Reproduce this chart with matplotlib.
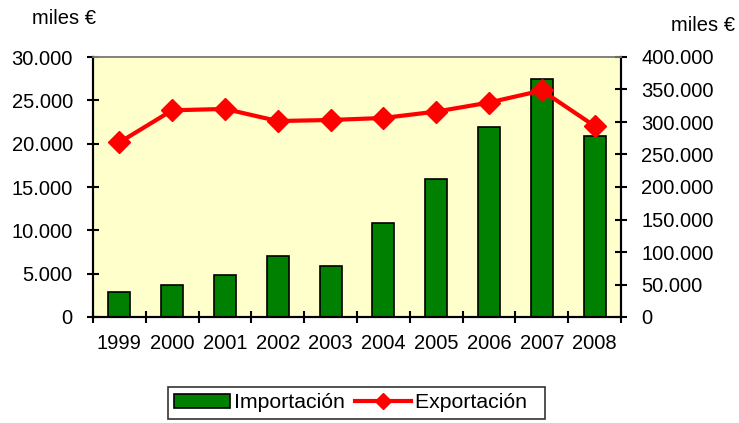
import matplotlib
matplotlib.use("Agg")
import matplotlib.pyplot as plt
from matplotlib.ticker import FuncFormatter, FixedLocator
from matplotlib.patches import Patch
from matplotlib.lines import Line2D
import numpy as np

years = ["1999", "2000", "2001", "2002", "2003", "2004", "2005", "2006", "2007", "2008"]
importacion = [2940, 3710, 4790, 7000, 5880, 10830, 15890, 21960, 27450, 20920]
exportacion = [268600, 318000, 320100, 301500, 303100, 306200, 316000, 329900, 348500, 293800]

plt.rcParams['font.family'] = ['Liberation Sans', 'DejaVu Sans']
FS = 14.5
LEG_FS = 15.3


def miles(v, pos):
    return "{:,.0f}".format(v).replace(",", ".")


def main():
    fig = plt.figure(figsize=(7.39, 4.23), dpi=100)
    # plot area in pixels: x 93..621, y 57..317
    ax = fig.add_axes([93 / 739, 1 - 317 / 423, 528 / 739, 260 / 423])
    ax.set_facecolor("#FFFFCC")
    x = np.arange(len(years))

    ax.bar(x, importacion, width=0.42, color="#008000", edgecolor="black", linewidth=1.2, zorder=2)
    ax.set_xlim(-0.5, len(years) - 0.5)
    ax.set_ylim(0, 30000)
    ax.set_yticks(np.arange(0, 30001, 5000))
    ax.yaxis.set_major_formatter(FuncFormatter(miles))

    ax.set_xticks(x)
    ax.set_xticklabels(years)
    ax.xaxis.set_minor_locator(FixedLocator(np.arange(-0.5, len(years), 1.0)))
    ax.tick_params(axis="x", which="major", length=0, pad=12, labelsize=FS)
    ax.tick_params(axis="x", which="minor", direction="inout", length=9, width=1.5)
    ax.tick_params(axis="y", direction="inout", length=9, width=1.5, labelsize=FS, pad=10)

    ax2 = ax.twinx()
    ax2.plot(x, exportacion, color="red", linewidth=3, marker="D", markersize=11, zorder=3)
    ax2.set_ylim(0, 400000)
    ax2.set_yticks(np.arange(0, 400001, 50000))
    ax2.yaxis.set_major_formatter(FuncFormatter(miles))
    ax2.tick_params(axis="y", direction="inout", length=9, width=1.5, labelsize=FS, pad=10)

    for a in (ax, ax2):
        a.spines["top"].set_color("#808080")
        a.spines["top"].set_linewidth(1.2)
        a.spines["left"].set_linewidth(1.5)
        a.spines["right"].set_linewidth(1.5)
        a.spines["bottom"].set_linewidth(1.5)

    fig.text(0.043, 0.957, "miles €", fontsize=FS, ha="left", va="center")
    fig.text(0.995, 0.94, "miles €", fontsize=FS, ha="right", va="center")

    handles = [
        Patch(facecolor="#008000", edgecolor="black", linewidth=1.2, label="Importación"),
        Line2D([], [], color="red", linewidth=3, marker="D", markersize=8, label="Exportación  "),
    ]
    leg = fig.legend(handles=handles, loc="upper left", bbox_to_anchor=(0.227, 0.085),
                     ncol=2, frameon=True, fancybox=False, fontsize=LEG_FS,
                     handlelength=2.65, handletextpad=0.15, columnspacing=0.5,
                     borderpad=0.3, borderaxespad=0)
    leg.get_frame().set_edgecolor("black")
    leg.get_frame().set_linewidth(1.2)

    fig.savefig("out.png", dpi=100)


if __name__ == '__main__':
    main()
